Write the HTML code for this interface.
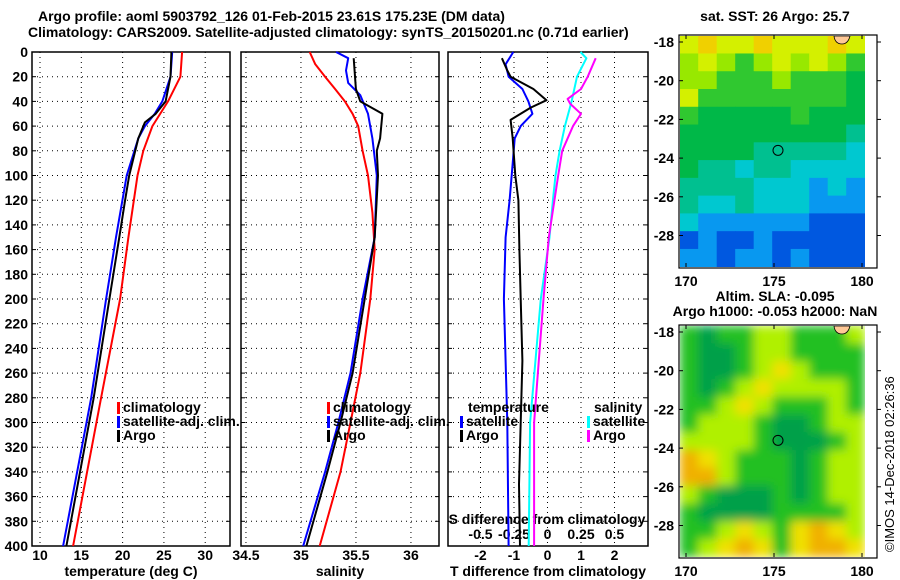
<!DOCTYPE html>
<html><head><meta charset="utf-8"><style>
body{margin:0;background:#fff}
svg{display:block;font-family:"Liberation Sans",sans-serif;font-weight:bold}
text{font-size:14px}
</style></head><body>
<svg id="c" width="900" height="580" viewBox="0 0 900 580">
<defs><filter id="blur"><feGaussianBlur stdDeviation="5"/></filter>
<clipPath id="m1"><rect x="680" y="36" width="185" height="231"/></clipPath>
<clipPath id="m2"><rect x="680" y="326" width="185" height="231"/></clipPath></defs>
<text x="38" y="21">Argo profile: aoml 5903792_126 01-Feb-2015 23.61S 175.23E (DM data)</text>
<text x="28" y="37">Climatology: CARS2009. Satellite-adjusted climatology: synTS_20150201.nc (0.71d earlier)</text>
<text x="775" y="21" text-anchor="middle">sat. SST: 26 Argo: 25.7</text>
<text x="775" y="301" text-anchor="middle">Altim. SLA: -0.095</text>
<text x="775" y="316" text-anchor="middle">Argo h1000: -0.053 h2000: NaN</text>
<text transform="translate(894,552) rotate(-90)" style="font-weight:normal;font-size:13px">©IMOS 14-Dec-2018 02:26:36</text>
</svg>
<script>
const depthTicks=[0,20,40,60,80,100,120,140,160,180,200,220,240,260,280,300,320,340,360,380,400];
const tempTicks=[10,15,20,25,30];
const salTicks=[34.5,35,35.5,36];
const tdTicks=[-2,-1,0,1,2];
const sdTicks=[-0.5,-0.25,0,0.25,0.5];
const sdTickLabels=["-0.5","-0.25","0","0.25","0.5"];
// temperature profiles
const tClimD=[0,20,40,60,80,100,150,200,280,400];
const tClimV=[27.2,27.0,25.5,23.6,22.5,21.8,20.7,19.7,17.4,14.0];
const tSatD=[0,20,40,50,60,70,100,150,200,280,400];
const tSatV=[26.0,25.8,24.8,23.9,22.7,21.9,20.5,19.2,18.0,16.2,12.8];
const tArgoD=[0,20,40,50,57,70,100,120,150,200,280,400];
const tArgoV=[25.9,25.8,25.2,24.0,22.7,21.9,20.8,20.3,19.6,18.4,16.5,13.2];
// salinity profiles
const sClimD=[0,10,20,30,40,50,60,80,100,130,160,200,260,300,340,400];
const sClimV=[35.08,35.13,35.22,35.31,35.40,35.47,35.52,35.56,35.61,35.65,35.67,35.63,35.54,35.45,35.36,35.17];
const sSatD=[0,5,15,25,35,50,70,100,150,200,260,300,340,400];
const sSatV=[35.32,35.43,35.41,35.43,35.54,35.61,35.65,35.69,35.67,35.56,35.45,35.34,35.22,35.02];
const sArgoD=[5,30,40,50,70,80,100,150,200,260,300,340,400];
const sArgoV=[35.48,35.50,35.54,35.74,35.72,35.69,35.70,35.67,35.58,35.47,35.36,35.24,35.05];
// differences
const dTSatD=[0,10,20,30,40,50,60,70,90,120,150,200,300,400];
const dTSatV=[-1.02,-1.25,-1.16,-0.75,-0.57,-0.45,-0.8,-0.98,-1.04,-1.13,-1.25,-1.3,-1.2,-1.16];
const dTArgoD=[5,15,20,30,39,45,55,70,100,120,160,200,250,300,350,400];
const dTArgoV=[-1.36,-1.2,-1.1,-0.42,-0.03,-0.5,-1.1,-1.04,-0.96,-0.87,-0.84,-0.8,-0.75,-0.8,-0.85,-0.82];
const dSSatD=[0,5,20,40,60,80,100,120,150,200,300,400];
const dSSatV=[0.246,0.29,0.22,0.18,0.13,0.09,0.06,0.04,0.015,-0.05,-0.13,-0.14];
const dSArgoD=[5,20,30,38,42,50,60,80,100,150,200,300,400];
const dSArgoV=[0.36,0.3,0.25,0.15,0.17,0.25,0.19,0.11,0.08,0.01,-0.03,-0.1,-0.1];

const svg=document.getElementById('c');const NS='http://www.w3.org/2000/svg';
function mk(t,a,p){const e=document.createElementNS(NS,t);for(const k in a)e.setAttribute(k,a[k]);(p||svg).appendChild(e);return e;}
const Y0=52,Y1=546;
function yD(d){return Y0+(d/400)*(Y1-Y0);}
const panels=[
 {x0:32,x1:230,v0:9.03,v1:33.0,ticks:tempTicks,name:'temperature-panel',xlabel:'temperature (deg C)'},
 {x0:241,x1:439,v0:34.455,v1:36.255,ticks:salTicks,name:'salinity-panel',xlabel:'salinity'},
 {x0:448,x1:648,v0:-2.97,v1:3.0,ticks:tdTicks,name:'difference-panel',xlabel:'T difference from climatology'}];
panels.forEach(p=>{p.sx=v=>p.x0+(v-p.v0)/(p.v1-p.v0)*(p.x1-p.x0);});
panels.forEach((p,i)=>{
 const g=mk('g',{});
 
 
 depthTicks.forEach(d=>{if(d>0&&d<400){const l=mk('line',{x1:p.x0,x2:p.x1,y1:yD(d),y2:yD(d),stroke:'#000','stroke-dasharray':'1 4','stroke-width':1},g);}
  mk('line',{x1:p.x0,x2:p.x0+4,y1:yD(d),y2:yD(d),stroke:'#000'},g);mk('line',{x1:p.x1,x2:p.x1-4,y1:yD(d),y2:yD(d),stroke:'#000'},g);
  if(i==0){const t=mk('text',{x:p.x0-4,y:yD(d)+5,'text-anchor':'end'},g);t.textContent=d;}});
 p.ticks.forEach(v=>{const x=p.sx(v);
  const l=mk('line',{x1:x,x2:x,y1:Y0,y2:Y1,stroke:'#000','stroke-dasharray':'1 4'},g);
  const t=mk('text',{x:x,y:560,'text-anchor':'middle'},g);t.textContent=v;});
 const r=mk('rect',{x:p.x0,y:Y0,width:p.x1-p.x0,height:Y1-Y0,fill:'none',stroke:'#000','stroke-width':1.5},g);
 
 const xl=mk('text',{x:(p.x0+p.x1)/2,y:576,'text-anchor':'middle'},g);xl.textContent=p.xlabel;
 
});
const pd=panels[2];
sdTicks.forEach((v,i)=>{const t=mk('text',{x:pd.sx(v*4),y:539,'text-anchor':'middle'});t.textContent=sdTickLabels[i];
 });
const st=mk('text',{x:547,y:524,'text-anchor':'middle'});st.textContent='S difference from climatology';

function line(p,D,V,col,name,scale){const pts=D.map((d,i)=>p.sx(V[i]*(scale||1)).toFixed(1)+','+yD(d).toFixed(1)).join(' ');
 const e=mk('polyline',{points:pts,fill:'none',stroke:col,'stroke-width':2,'stroke-linejoin':'round'});
 }
line(panels[0],tClimD,tClimV,'#f00','temp-climatology-line');
line(panels[0],tSatD,tSatV,'#00f','temp-satellite-line');
line(panels[0],tArgoD,tArgoV,'#000','temp-argo-line');
line(panels[1],sClimD,sClimV,'#f00','sal-climatology-line');
line(panels[1],sSatD,sSatV,'#00f','sal-satellite-line');
line(panels[1],sArgoD,sArgoV,'#000','sal-argo-line');
line(pd,dTSatD,dTSatV,'#00f','tdiff-satellite-line');
line(pd,dTArgoD,dTArgoV,'#000','tdiff-argo-line');
line(pd,dSSatD,dSSatV,'#0ff','sdiff-satellite-line',4);
line(pd,dSArgoD,dSArgoV,'#f0f','sdiff-argo-line',4);
function leg(x,y,col,txt){if(col){const m=mk('rect',{x:x,y:y-10,width:3,height:12,fill:col});}
 const t=mk('text',{x:x+6,y:y});t.textContent=txt;}
leg(117,412,'#f00','climatology');leg(117,426,'#00f','satellite-adj. clim.');leg(117,440,'#000','Argo');
leg(327,412,'#f00','climatology');leg(327,426,'#00f','satellite-adj. clim.');leg(327,440,'#000','Argo');
leg(462,412,null,'temperature');leg(460,426,'#00f','satellite');leg(460,440,'#000','Argo');
leg(588,412,null,'salinity');leg(587,426,'#0ff','satellite');leg(587,440,'#f0f','Argo');
// maps
const sstRows=["YOYYOYYYOY","yYyGyYyYyG","yyGGGyGGGg","YGGGGGGGGg","GgggggGggg","gggggggggt","ggggtttttc","gttcttcccc","ttttcccbcb","tcctcccbbb","cbbbbbbBBB","BbBBbBBBBB","bbBbbBbBBB"];
const slaRows=["GdGGyyGGGy","GddGyyGGGG","GddGyYyGGG","GdGyYyyyyG","GGyYyGGGyG","GyyyGddGyy","yyyyGdddGy","OYyGGGdGyy","OOyGGGdGyy","yGdddGdGyy","GddddGGGGy","GGyYyGYOYy","GyYOYGYOOY"];
const sstCol={Y:'#d4f000',O:'#f0d000',y:'#98e800',G:'#30c830',g:'#00b848',t:'#00c090',c:'#00c8d0',b:'#0898f0',B:'#0058e0'};
const slaCol={G:'#20c020',d:'#00a048',y:'#b0f000',Y:'#f0e000',O:'#f0b000'};
function map(y0,rows,cols,name,blur,clip){const g=mk('g',{'clip-path':'url(#'+clip+')'});
 
 const inner=mk('g',blur?{filter:'url(#blur)'}:{},g);
 const cw=185/10,ch=231/rows.length;
 rows.forEach((r,i)=>{for(let j=0;j<10;j++){mk('rect',{x:680+j*cw-0.3,y:y0+i*ch-0.3,width:cw+0.6,height:ch+0.6,fill:cols[r[j]]},inner);}});
 mk('path',{d:`M834 ${y0} q1 8 8 8 q6 0 8 -8z`,fill:'#ffc896',stroke:'#000','stroke-width':0.8},g);
 const c=mk('circle',{cx:778,cy:y0+(23.61-17.7)*19.35,r:5,fill:'none',stroke:'#000'},g);
 const fr=mk('rect',{x:679,y:y0-1,width:198,height:233,fill:'none',stroke:'#000','stroke-width':1.2});
 const lonTicks=[170,175,180];lonTicks.forEach(v=>{const x=686+(v-170)*17.6;mk('line',{x1:x,x2:x,y1:y0+231,y2:y0+227,stroke:'#000'});mk('line',{x1:x,x2:x,y1:y0-1,y2:y0+3,stroke:'#000'});
  const t=mk('text',{x:x,y:y0+250,'text-anchor':'middle'});t.textContent=v;});
 const latTicks=[-18,-20,-22,-24,-26,-28];latTicks.forEach(v=>{const y=y0+6+(-18-v)*19.35;mk('line',{x1:679,x2:683,y1:y,y2:y,stroke:'#000'});mk('line',{x1:877,x2:881,y1:y,y2:y,stroke:'#000'});
  const t=mk('text',{x:674,y:y+5,'text-anchor':'end'});t.textContent=v;});
}
map(36,sstRows,sstCol,'sst-map',false,'m1');
map(326,slaRows,slaCol,'sla-map',true,'m2');
</script>
</body></html>
